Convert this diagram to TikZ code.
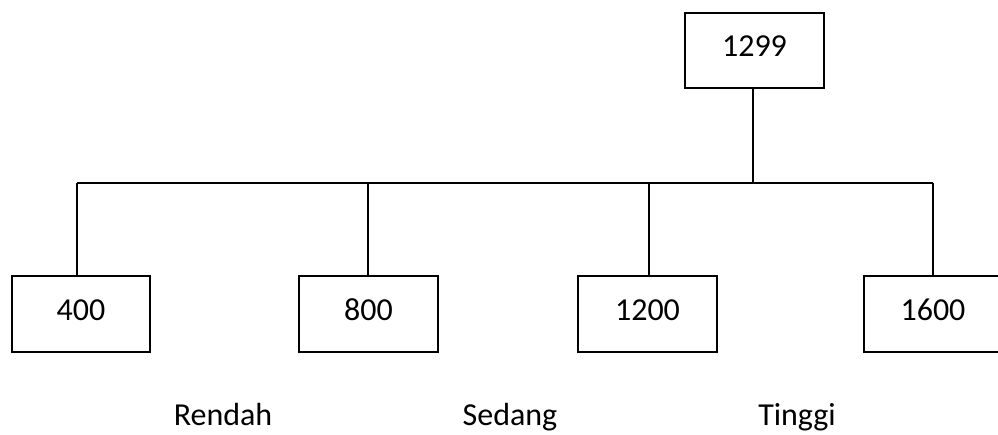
\documentclass[tikz,border=0pt]{standalone}
\usepackage{fontspec}
\setmainfont{Carlito}
\begin{document}
\begin{tikzpicture}[x=1pt,y=-1pt,
  line width=1.6pt,
  valbox/.style={draw, rectangle, minimum width=138pt, minimum height=75pt,
    inner sep=0pt, text depth=8pt, font=\fontsize{32}{38}\selectfont},
  catlabel/.style={anchor=base, inner sep=0pt, font=\fontsize{32}{38}\selectfont},
  link/.style={draw, line width=1.6pt}]
  \useasboundingbox[fill=white] (0,0) rectangle (998,434);

  % root value
  \node[valbox, minimum width=139pt] (root) at (754.5,50.5) {1299};

  % leaf values
  \node[valbox, minimum height=76pt] (b1) at (81,314) {400};
  \node[valbox, minimum height=76pt, minimum width=139pt] (b2) at (368.5,314) {800};
  \node[valbox, minimum height=76pt, minimum width=139pt] (b3) at (647.5,314) {1200};
  \node[valbox, minimum height=76pt] (b4) at (933,314) {1600};

  % branching points on the horizontal bar
  \coordinate (j0) at (753,183);
  \coordinate (j1) at (77,183);
  \coordinate (j2) at (368,183);
  \coordinate (j3) at (649,183);
  \coordinate (j4) at (933,183);

  \path[link] (j0 |- root.south) -- (j0);
  \path[link] (j1) -- (j4);
  \path[link] (j1) -- (j1 |- b1.north);
  \path[link] (j2) -- (j2 |- b2.north);
  \path[link] (j3) -- (j3 |- b3.north);
  \path[link] (j4) -- (j4 |- b4.north);

  % category labels
  \node[catlabel] (low) at (223,425) {Rendah};
  \node[catlabel] (mid) at (510,425) {Sedang};
  \node[catlabel] (high) at (797,425) {Tinggi};
\end{tikzpicture}
\end{document}
